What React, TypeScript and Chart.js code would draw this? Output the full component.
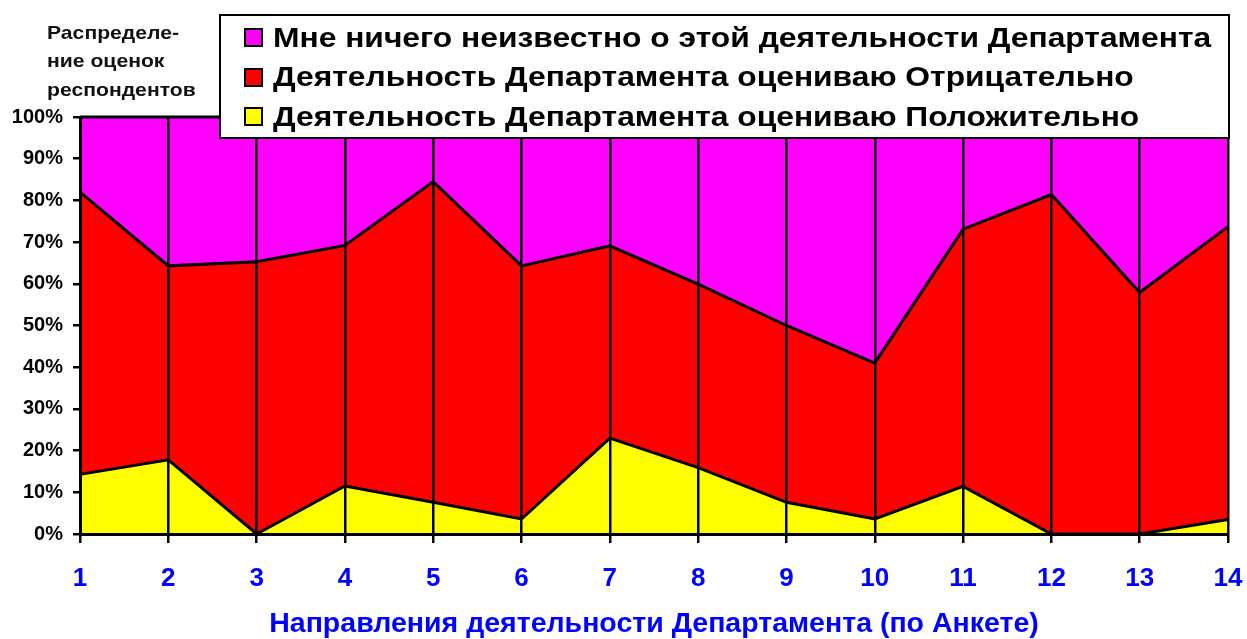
import React, { useEffect, useRef } from "react";
import { Chart, registerables } from "chart.js";

Chart.register(...registerables);

const categories = ["1", "2", "3", "4", "5", "6", "7", "8", "9", "10", "11", "12", "13", "14"];
const positive = [14.3, 17.8, 0, 11.5, 7.6, 3.6, 23.0, 15.9, 7.6, 3.6, 11.4, 0, 0, 3.5];
const negative = [67.7, 46.5, 65.3, 57.7, 76.9, 60.7, 46.1, 44.0, 42.4, 37.4, 61.7, 81.4, 57.9, 70.2];
const unknown = [18.0, 35.7, 34.7, 30.8, 15.5, 35.7, 30.9, 40.1, 50.0, 59.0, 26.9, 18.6, 42.1, 26.3];
const seriesNames = [
  "Деятельность Департамента оцениваю Положительно",
  "Деятельность Департамента оцениваю Отрицательно",
  "Мне ничего неизвестно о этой деятельности Департамента",
];
const seriesColors = ["#ffff00", "#ff0000", "#ff00ff"];
const yTitleLines = ["Распределе-", "ние оценок", "респондентов"];
const xTitle = "Направления деятельности Департамента (по Анкете)";

const FONT = "'Liberation Sans', Arial, Helvetica, sans-serif";

export default function App() {
  const ref = useRef<HTMLCanvasElement | null>(null);

  useEffect(() => {
    if (!ref.current) return;
    const values = [positive, negative, unknown];
    const chart = new Chart(ref.current, {
      type: "line",
      data: {
        labels: categories,
        datasets: values.map((v, i) => ({
          label: seriesNames[i],
          data: v,
          backgroundColor: seriesColors[i],
          borderColor: "#000000",
          borderWidth: 3,
          pointRadius: 0,
          tension: 0,
          fill: i === 0 ? "origin" : "-1",
          clip: false as any,
        })),
      },
      options: {
        responsive: false,
        animation: false,
        layout: { padding: { left: 0, right: 19, top: 117, bottom: 0 } },
        plugins: {
          legend: { display: false },
          tooltip: { enabled: false },
          title: { display: false },
        },
        scales: {
          x: {
            type: "category",
            offset: false,
            grid: {
              display: true,
              drawOnChartArea: true,
              drawTicks: true,
              tickLength: 9,
              color: "#000000",
              lineWidth: 2.5,
              z: 1,
            },
            border: { display: true, color: "#000000", width: 3, z: 2 },
            ticks: {
              color: "#0000ff",
              font: { family: FONT, size: 26, weight: "bold", lineHeight: 2.42 },
              padding: 4,
              maxRotation: 0,
              autoSkip: false,
              z: 1,
            },
            title: {
              display: true,
              text: xTitle,
              color: "#0000ff",
              font: { family: FONT, size: 28.5, weight: "bold" },
              padding: { top: 0, bottom: -2 },
            },
            afterFit: (scale: any) => {
              scale.height = 105;
            },
          },
          y: {
            stacked: true,
            min: 0,
            max: 100,
            grid: {
              display: true,
              drawOnChartArea: false,
              drawTicks: true,
              tickLength: 7,
              color: "#000000",
              lineWidth: 2.5,
              z: 1,
            },
            border: { display: true, color: "#000000", width: 3, z: 2 },
            ticks: {
              stepSize: 10,
              color: "#000000",
              font: { family: FONT, size: 20, weight: "bold" },
              padding: 10,
              callback: (v: any) => `${v}%`,
            },
            afterFit: (scale: any) => {
              scale.width = 80;
            },
          },
        },
      },
    });
    return () => chart.destroy();
  }, []);

  const legendOrder = [2, 1, 0];

  return (
    <div style={{ position: "fixed", left: 0, top: 0, width: 1247, height: 639, background: "#ffffff" }}>
      <canvas ref={ref} width={1247} height={639} style={{ position: "absolute", left: 0, top: 0 }} />
      <div
        style={{
          position: "absolute",
          left: 47,
          top: 18.5,
          fontFamily: FONT,
          fontWeight: "bold",
          fontSize: 18.5,
          lineHeight: "28.7px",
          color: "#111111",
          whiteSpace: "nowrap",
          transform: "scaleX(1.144)",
          transformOrigin: "0 0",
        }}
      >
        {yTitleLines.map((l, i) => (
          <div key={i}>{l}</div>
        ))}
      </div>
      <div
        style={{
          position: "absolute",
          left: 219,
          top: 14,
          width: 1011,
          height: 125,
          boxSizing: "border-box",
          border: "2.5px solid #000000",
          background: "#ffffff",
        }}
      >
        {legendOrder.map((idx, row) => (
          <div
            key={idx}
            style={{
              position: "absolute",
              left: 23,
              top: 1.5 + row * 39.7,
              height: 40,
              display: "flex",
              alignItems: "center",
              whiteSpace: "nowrap",
            }}
          >
            <span
              style={{
                display: "inline-block",
                width: 19,
                height: 19,
                boxSizing: "border-box",
                border: "2px solid #000000",
                background: seriesColors[idx],
                marginRight: 10,
              }}
            />
            <span
              style={{
                display: "inline-block",
                fontFamily: FONT,
                fontWeight: "bold",
                fontSize: 28,
                lineHeight: "40px",
                color: "#000000",
                transform: "scaleX(1.135)",
                transformOrigin: "0 50%",
              }}
            >
              {seriesNames[idx]}
            </span>
          </div>
        ))}
      </div>
    </div>
  );
}
